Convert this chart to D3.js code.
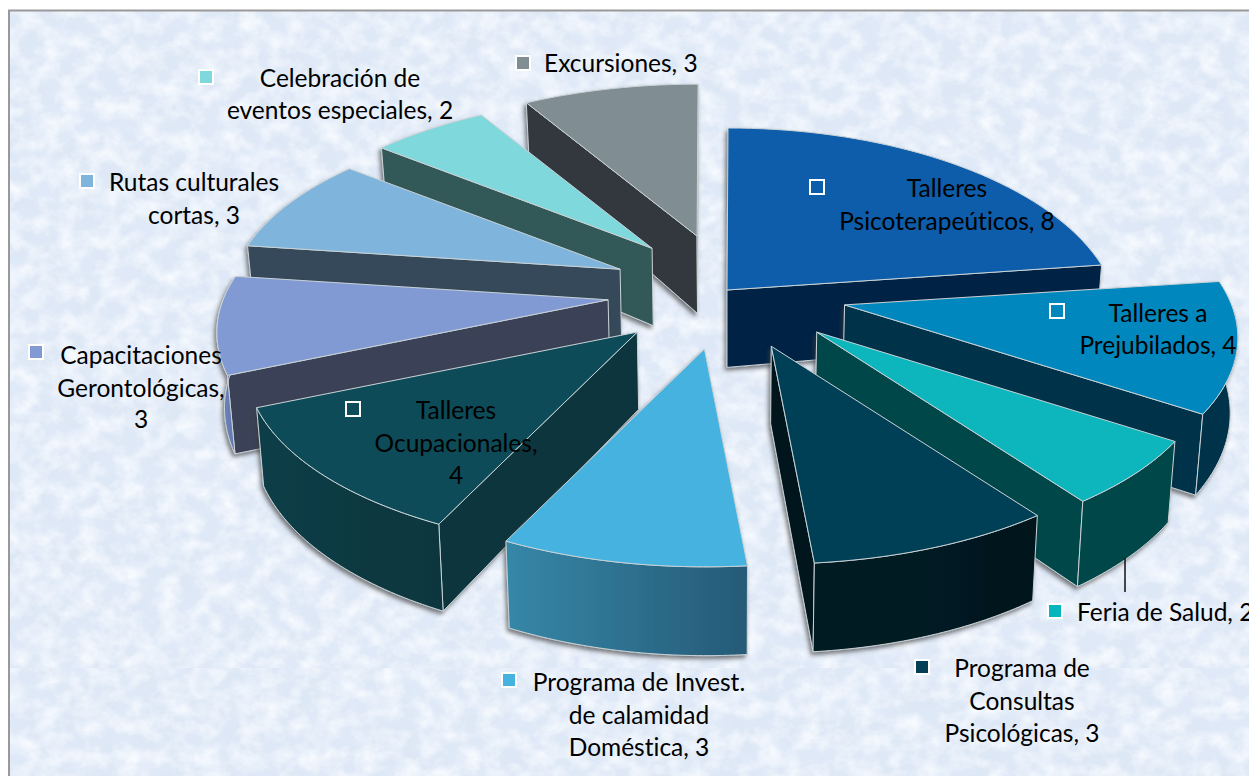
<!DOCTYPE html>
<html><head><meta charset="utf-8">
<script src="https://cdn.jsdelivr.net/npm/d3@7/dist/d3.min.js"></script>
<style>html,body{margin:0;padding:0;background:#fff;overflow:hidden}svg{display:block}text{font-family:Lato,"Open Sans",sans-serif;fill:#000;font-variant-ligatures:none}</style>
</head><body>
<script>
const categories = ["Talleres Psicoterapeúticos","Talleres a Prejubilados","Feria de Salud","Programa de Consultas Psicológicas","Programa de Invest. de calamidad Doméstica","Talleres Ocupacionales","Capacitaciones Gerontológicas","Rutas culturales cortas","Celebración de eventos especiales","Excursiones"];
const values = [8,4,2,3,3,4,3,3,2,3];
const pulled = [0,1,1,1,1,1,1,1,1,1];
const topColors = ["#0b5dab","#0088be","#07b5bd","#053f56","#45b2e0","#0d4c58","#829ad3","#7fb4dc","#7fd8dc","#808d93"];
const faceColors = ["#012044","#013249","#044649","#01191f","#2c6e8e","#07363e","#3a4259","#344a5a","#335859","#33373c"];
const wallLight = ["#012044","#013249","#044649","#011c24","#3687a8","#0a3d47","#6f86c0","#344a5a","#335859","#33373c"];
const wallDark = ["#012044","#013249","#044649","#01181e","#255a76","#07363e","#6378ae","#344a5a","#335859","#33373c"];
const labelLines = [["Talleres","Psicoterapeúticos, 8"],["Talleres a","Prejubilados, 4"],["Feria de Salud, 2"],["Programa de","Consultas","Psicológicas, 3"],["Programa de Invest.","de calamidad","Doméstica, 3"],["Talleres","Ocupacionales,","4"],["Capacitaciones","Gerontológicas,","3"],["Rutas culturales","cortas, 3"],["Celebración de","eventos especiales, 2"],["Excursiones, 3"]];

const W=1249,H=776;
const svg=d3.select("body").append("svg").attr("width",W).attr("height",H);
const defs=svg.append("defs");

function paper(id,seed){
  const f=defs.append("filter").attr("id",id).attr("x",0).attr("y",0).attr("width",1).attr("height",1);
  f.append("feTurbulence").attr("type","fractalNoise").attr("baseFrequency","0.03 0.035").attr("numOctaves",4).attr("seed",seed).attr("result","n");
  f.append("feColorMatrix").attr("in","n").attr("type","matrix").attr("values","0 0 0 0 0.72  0 0 0 0 0.80  0 0 0 0 0.91  2.2 0 0 0 -0.78").attr("result","blue");
  f.append("feTurbulence").attr("type","fractalNoise").attr("baseFrequency","0.05 0.06").attr("numOctaves",4).attr("seed",seed+5).attr("result","m");
  f.append("feColorMatrix").attr("in","m").attr("type","matrix").attr("values","0 0 0 0 0.93  0 0 0 0 0.96  0 0 0 0 1  0 2 0 0 -0.72").attr("result","white");
  const mg=f.append("feMerge");
  mg.append("feMergeNode").attr("in","blue");
  mg.append("feMergeNode").attr("in","white");
}
paper("paperA",7);paper("paperB",23);
const sh=defs.append("filter").attr("id","shadow").attr("x","-10%").attr("y","-10%").attr("width","120%").attr("height","120%");
sh.append("feDropShadow").attr("dx",-2).attr("dy",3).attr("stdDeviation",2.2).attr("flood-color","#3a3a3a").attr("flood-opacity",.65);

// backdrop
svg.append("rect").attr("x",9).attr("y",11).attr("width",W).attr("height",H).attr("fill","#dfe9f7");
svg.append("rect").attr("x",9).attr("y",11).attr("width",W).attr("height",657).attr("filter","url(#paperA)");
svg.append("rect").attr("x",9).attr("y",668).attr("width",W).attr("height",108).attr("filter","url(#paperB)");
svg.append("path").attr("d",`M9,${H}V10.5H${W}`).attr("fill","none").attr("stroke","#999").attr("stroke-width",2);

// projection of the tilted pie
const cx=727,Rx=386,Ry=179,persp=0.178,depth=73,pullX=119,pullY=58,pullPersp=0.06,rimShift=1,shrink=0.985;
function project(theta,r,mid,pull,z){
  const u=Math.sin(theta)*r,v=-Math.cos(theta)*r,s=1/(1-persp*v);
  const cy=pull?292:290, ry=pull?Ry:Ry*1.066;
  const ps=1/(1+pullPersp*Math.cos(mid));
  let x=cx+pull*pullX*Math.sin(mid)*ps+Rx*u*s+rimShift*r;
  let y=cy-pull*pullY*Math.cos(mid)+ry*v*s;
  if(z){ x=cx+(x-cx)*shrink; y+=depth*s*(r===0?1.06:1); }
  return [x,y];
}
const line=d3.line();
const pie=d3.pie().sort(null).startAngle(0).endAngle(2*Math.PI);
const arcs=pie(values);
const order=[0,9,8,7,6,1,2,3,5,4];

order.forEach(i=>{
  const a=arcs[i],mid=(a.startAngle+a.endAngle)/2,pull=pulled[i];
  const grad=defs.append("linearGradient").attr("id","wall"+i);
  grad.append("stop").attr("offset",0).attr("stop-color",wallLight[i]);
  grad.append("stop").attr("offset",1).attr("stop-color",wallDark[i]);
  const g=svg.append("g").attr("filter","url(#shadow)");
  const P=(t,r,z)=>project(t,r,mid,pull,z);
  const ang=d3.range(0,41).map(k=>a.startAngle+(a.endAngle-a.startAngle)*k/40);
  const topArc=ang.map(t=>P(t,1,0));
  const face=t=>[P(t,0,0),P(t,1,0),P(t,1,1),P(t,0,1)];
  const draw=(pts,fill)=>g.append("path").attr("d",line(pts)+"Z").attr("fill",fill).attr("stroke","#c9d2d6").attr("stroke-width",1).attr("stroke-linejoin","round");
  // cut faces, culling those that look away
  const fs=face(a.startAngle),fe=face(a.endAngle);
  if(d3.polygonArea(fs)>0) draw(fs,faceColors[i]);
  if(d3.polygonArea(fe)<0) draw(fe,faceColors[i]);
  // rim: only the part turned to the viewer
  const vis=ang.filter(t=>Math.cos(t)<0);
  if(vis.length>1){
    const t=vis.map(x=>P(x,1,0)),b=vis.map(x=>P(x,1,1)).reverse();
    draw(t.concat(b),`url(#wall${i})`);
  }
  // top
  draw([P(0,0,0)].concat(topArc),topColors[i]);
});

// labels
const layout=[
 {c:947,b:[197,230],sx:817,sy:187},
 {c:1158,b:[322,354],sx:1057,sy:311},
 {l:1077,b:[621],sx:1055,sy:611},
 {c:1022,b:[677,710,742],sx:922,sy:667},
 {c:639,b:[691,724,756],sx:509,sy:680},
 {c:456,b:[419,452,484],sx:353,sy:409},
 {c:141,b:[364,397,428],sx:36,sy:352},
 {c:194,b:[191,224],sx:87,sy:181},
 {c:340,b:[87,119],sx:206,sy:77},
 {l:544,b:[72],sx:523,sy:63}
];
svg.append("line").attr("x1",1125).attr("x2",1125).attr("y1",558).attr("y2",592).attr("stroke","#111").attr("stroke-width",1.5);
const lab=svg.append("g");
layout.forEach((d,i)=>{
  lab.append("rect").attr("x",d.sx-7).attr("y",d.sy-7).attr("width",14).attr("height",14).attr("fill",topColors[i]).attr("stroke","#fff").attr("stroke-width",2);
  labelLines[i].forEach((t,k)=>{
    lab.append("text").attr("x",d.c!==undefined?d.c:d.l).attr("y",d.b[k]).attr("text-anchor",d.c!==undefined?"middle":"start").attr("font-size",24.5).text(t);
  });
});
</script>
</body></html>
